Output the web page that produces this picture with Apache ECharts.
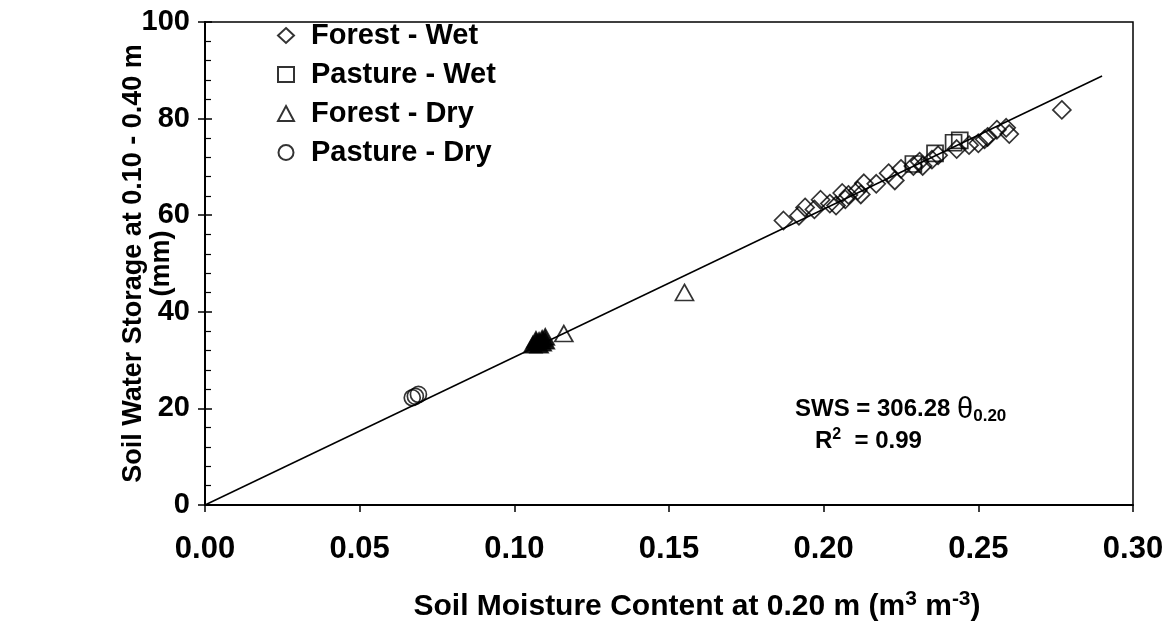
<!DOCTYPE html>
<html>
<head>
<meta charset="utf-8">
<script src="https://cdn.jsdelivr.net/npm/echarts@6/dist/echarts.min.js"></script>
<style>html,body{margin:0;padding:0;background:#fff}#c{width:1166px;height:623px}</style>
</head>
<body>
<div id="c"></div>
<script>
// ---- data ----
const forestWetX = [0.187,0.192,0.194,0.197,0.199,0.202,0.204,0.206,0.207,0.208,0.211,0.212,0.213,0.217,0.221,0.223,0.225,0.229,0.231,0.232,0.235,0.237,0.243,0.247,0.250,0.252,0.253,0.256,0.259,0.260,0.277];
const forestWetY = [58.9,59.9,61.6,61.2,63.2,62.4,62.0,64.6,63.3,64.2,65.1,64.3,66.6,66.5,68.7,67.2,69.6,70.2,71.1,70.2,71.5,72.4,73.7,74.5,74.9,75.7,76.2,77.7,78.1,76.8,81.8];
const pastureWetX = [0.229,0.236,0.242,0.244];
const pastureWetY = [70.6,72.8,75.0,75.5];
const forestDryX = [0.116,0.155];
const forestDryY = [35.5,44.0];
const forestDryClusterX = [0.106,0.107,0.108,0.108,0.109,0.110,0.109,0.107,0.110];
const forestDryClusterY = [33.2,33.6,34.0,33.2,34.4,34.8,33.6,34.2,34.0];
const pastureDryX = [0.067,0.068,0.069];
const pastureDryY = [22.2,22.5,22.9];
const slope = 306.28;
const fitRangeX = [0.0, 0.29];
const xTicks = [0.00,0.05,0.10,0.15,0.20,0.25,0.30];
const yTicks = [0,20,40,60,80,100];
const seriesNames = ['Forest - Wet','Pasture - Wet','Forest - Dry','Pasture - Dry'];

const zip = (xs, ys) => xs.map((x, i) => [x, ys[i]]);
const FONT = '"Liberation Sans", Arial, Helvetica, sans-serif';

const chart = echarts.init(document.getElementById('c'), null, {renderer: 'canvas'});
const hollow = {color: 'transparent', borderColor: '#000', borderWidth: 1.7};

const option = {
  backgroundColor: '#fff',
  animation: false,
  grid: {left: 205, right: 33, top: 22, bottom: 118, containLabel: false, outerBoundsMode: 'none',
    show: true, borderColor: '#000', borderWidth: 1.5, backgroundColor: 'transparent'},
  legend: {
    data: seriesNames,
    orient: 'vertical',
    left: 272, top: 16,
    itemWidth: 16, itemHeight: 15, itemGap: 10, symbolKeepAspect: true,
    textStyle: {fontFamily: FONT, fontWeight: 'bold', fontSize: 29, color: '#000', padding: [0,0,0,12]},
    selectedMode: false
  },
  xAxis: {
    type: 'value', min: 0, max: 0.3, interval: 0.05,
    name: 'Soil Moisture Content at 0.20 m (m{sup|3} m{sup|-3})',
    nameLocation: 'middle', nameGap: 84, nameMoveOverlap: false,
    nameTextStyle: {fontFamily: FONT, fontWeight: 'bold', fontSize: 30, color: '#000', padding: [0,0,0,56],
      rich: {sup: {fontFamily: FONT, fontWeight: 'bold', fontSize: 21, color: '#000', verticalAlign: 'top', padding: [0,0,14,0]}}},
    axisLine: {lineStyle: {color: '#000', width: 2}},
    axisTick: {show: true, length: 7, lineStyle: {color: '#000', width: 1.5}},
    splitLine: {show: false},
    axisLabel: {margin: 29, fontFamily: FONT, fontWeight: 'bold', fontSize: 31, color: '#000',
      formatter: v => xTicks.find(t => Math.abs(t - v) < 1e-9).toFixed(2)}
  },
  yAxis: [{
    type: 'value', min: 0, max: 100, interval: 20,
    name: 'Soil Water Storage at 0.10 - 0.40 m\n(mm)',
    nameLocation: 'middle', nameGap: 29, nameRotate: 90, nameMoveOverlap: false,
    nameTextStyle: {fontFamily: FONT, fontWeight: 'bold', fontSize: 27, color: '#000', lineHeight: 28},
    axisLine: {lineStyle: {color: '#000', width: 2}},
    axisTick: {show: true, inside: true, length: 7, lineStyle: {color: '#000', width: 1.5}},
    minorTick: {show: true, splitNumber: 5, length: 6, lineStyle: {color: '#000', width: 1.2}},
    splitLine: {show: false},
    axisLabel: {margin: 15, fontFamily: FONT, fontWeight: 'bold', fontSize: 29, color: '#000',
      formatter: v => String(yTicks.find(t => t === v))}
  }, {
    type: 'value', min: 0, max: 100, interval: 20, position: 'left',
    axisLine: {show: false},
    axisTick: {show: true, inside: false, length: 7, lineStyle: {color: '#000', width: 1.5}},
    axisLabel: {show: false}, splitLine: {show: false}
  }],
  series: [
    {
      name: 'fit', type: 'line', showSymbol: false, silent: true,
      data: fitRangeX.map(x => [x, slope * x]),
      lineStyle: {color: '#000', width: 1.5}, z: 1
    },
    {name: seriesNames[0], type: 'scatter', symbol: 'diamond', symbolSize: [18, 18],
      data: zip(forestWetX, forestWetY), itemStyle: hollow, z: 3},
    {name: seriesNames[1], type: 'scatter', symbol: 'rect', symbolSize: [16, 16],
      data: zip(pastureWetX, pastureWetY), itemStyle: hollow, z: 3},
    {name: seriesNames[2], type: 'scatter', symbol: 'triangle', symbolSize: [18, 16],
      data: zip(forestDryX, forestDryY), itemStyle: hollow, z: 3},
    {name: 'Forest - Dry (overlap)', type: 'scatter', symbol: 'triangle', symbolSize: [18, 16],
      data: zip(forestDryClusterX, forestDryClusterY), itemStyle: {color: '#000', borderColor: '#000', borderWidth: 1.7}, z: 3},
    {name: seriesNames[3], type: 'scatter', symbol: 'circle', symbolSize: 16,
      data: zip(pastureDryX, pastureDryY), itemStyle: hollow, z: 3}
  ],
  graphic: [{
    type: 'text', left: 795, top: 395,
    style: {
      text: '{b|SWS = 306.28 }{t|θ}{s|0.20}\n{b|   R}{p|2}{b|  = 0.99}',
      rich: {
        b: {fontFamily: FONT, fontWeight: 'bold', fontSize: 24, fill: '#000', lineHeight: 32},
        t: {fontFamily: FONT, fontSize: 29, fill: '#000', lineHeight: 32},
        s: {fontFamily: FONT, fontWeight: 'bold', fontSize: 17, fill: '#000', padding: [14,0,0,0]},
        p: {fontFamily: FONT, fontWeight: 'bold', fontSize: 16, fill: '#000', padding: [0,0,14,0]}
      }
    }
  }]
};
chart.setOption(option);
</script>
</body>
</html>
